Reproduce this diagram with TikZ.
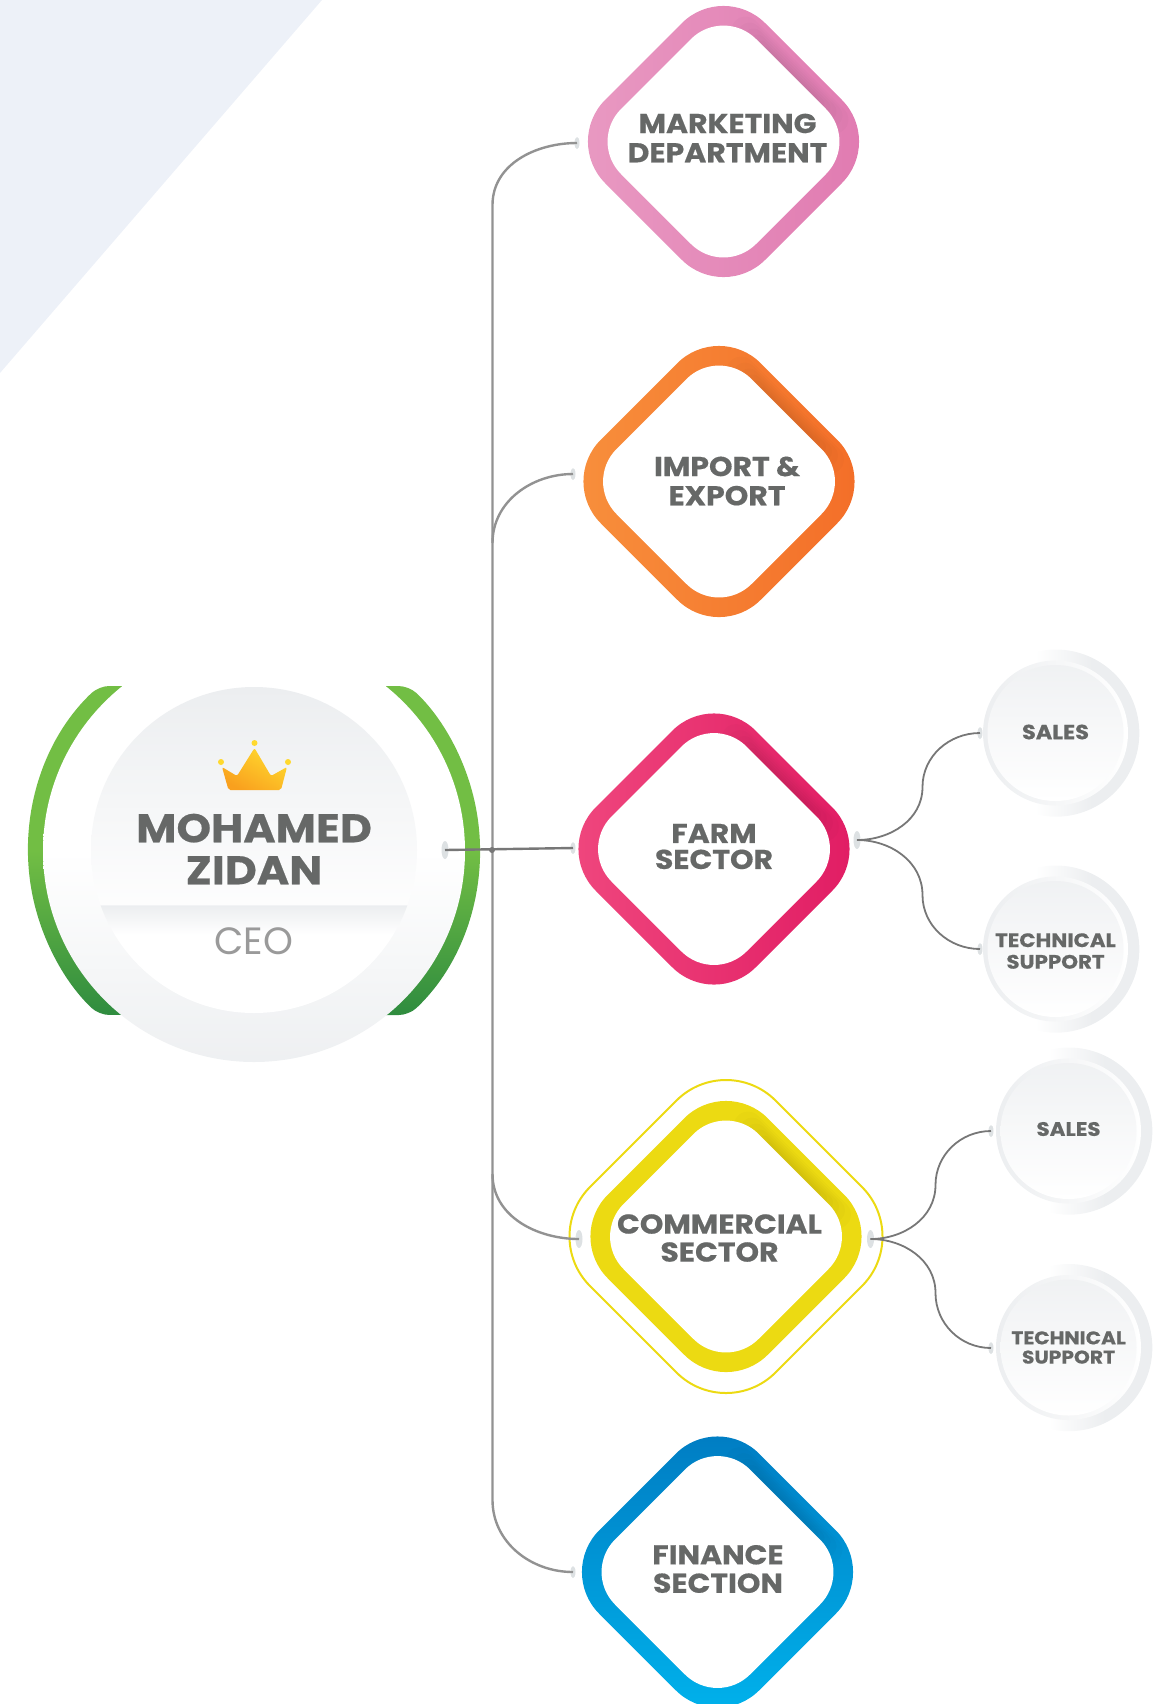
\documentclass[tikz,border=0pt]{standalone}
\usepackage{fontspec}
\setmainfont{Poppins}[BoldFeatures={FakeStretch=1.1,FakeBold=.5}]
\usetikzlibrary{shapes.geometric}

\definecolor{pagetri}{HTML}{EDF1F8}
\definecolor{textgrey}{HTML}{666867}
\definecolor{wiregrey}{HTML}{777777}
\definecolor{trunkgrey}{HTML}{929292}
\definecolor{titlegrey}{HTML}{9A9A9A}
\definecolor{pingrey}{HTML}{DDE1E3}
\definecolor{softgrey}{HTML}{ECEEF0}
\definecolor{greenlight}{HTML}{72BE44}
\definecolor{greendark}{HTML}{2F8C3F}
\definecolor{crowntop}{HTML}{FFD92E}
\definecolor{crownlow}{HTML}{F9A01E}
\definecolor{pinka}{HTML}{E99BC3}
\definecolor{pinkb}{HTML}{E079B0}
\definecolor{orangea}{HTML}{F8913D}
\definecolor{orangeb}{HTML}{F36C27}
\definecolor{rosea}{HTML}{F0497F}
\definecolor{roseb}{HTML}{E01A62}
\definecolor{yellowring}{HTML}{ECDA12}
\definecolor{bluea}{HTML}{0079C0}
\definecolor{blueb}{HTML}{00B5EE}

\pgfdeclareverticalshading{ceodisc}{100bp}{color(0bp)=(white); color(37bp)=(white); color(41.5bp)=(softgrey); color(41.7bp)=(white!90!softgrey); color(75bp)=(softgrey); color(100bp)=(softgrey)}

\tikzset{
    ringbase/.style={diamond, inner sep=0pt, outer sep=0pt, minimum size=160pt, rounded corners=29.5pt},
    ringhole/.style={diamond, inner sep=0pt, outer sep=0pt, minimum size=135pt, rounded corners=23pt, fill=white},
    pindot/.style={ellipse, inner sep=0pt, outer sep=0pt, minimum width=2.5pt, minimum height=6pt, fill=pingrey},
    pinbig/.style={pindot, minimum width=3.5pt, minimum height=9pt},
    wire/.style={wiregrey, line width=.9pt},
    trunk/.style={trunkgrey, line width=1.2pt},
    ringshadow/.style={black, opacity=.016, line cap=round},
    bigtext/.style={align=center, text=textgrey, inner sep=0pt, font=\bfseries\fontsize{13.6}{14.6}\selectfont},
    smalltext/.style={align=center, text=textgrey, inner sep=0pt, font=\bfseries\fontsize{9.7}{10.8}\selectfont},
    subtext/.style={smalltext, font=\bfseries\fontsize{9.2}{9.6}\selectfont},
    subdisc/.style={circle, inner sep=0pt, outer sep=0pt, minimum size=72.5pt, left color=softgrey, right color=white},
    subface/.style={circle, inner sep=0pt, outer sep=0pt, minimum size=68pt, top color=softgrey!80!white, bottom color=white},
    subback/.style={left color=white, right color=softgrey, middle color=softgrey}
}

\begin{document}
\begin{tikzpicture}[x=.5pt,y=-.5pt]
    \useasboundingbox (0,0) rectangle (1164,1704);

    \fill[pagetri] (0,0) -- (322,0) -- (0,373) -- cycle;

    % ceo badge
    \shade[top color=greenlight, bottom color=greendark, middle color=greenlight, rounded corners=5pt]
        (254,686) -- (99,686) arc[start angle=133.3, end angle=226.7, radius=113pt] -- (254,1015)
        -- (409,1015) arc[start angle=-46.7, end angle=46.7, radius=113pt] -- cycle;
    \node[circle, inner sep=0pt, outer sep=0pt, minimum size=211pt, top color=white, bottom color=softgrey!90!white, middle color=white] at (254,851) (ceoback) {};
    \node[circle, inner sep=0pt, outer sep=0pt, minimum size=163pt, shading=ceodisc] at (254,850) (ceoface) {};

    % crown
    \shade[left color=crowntop, right color=crownlow, shading angle=-30, rounded corners=1pt]
        (228.5,790) -- (222,767) -- (237,776) -- (254.5,748) -- (271,776) -- (287,767) -- (281,790) -- cycle;
    \fill[crowntop] (221,762) circle (1.5pt) (254.5,743) circle (1.5pt) (288,762) circle (1.5pt);

    \node[bigtext, font=\bfseries\fontsize{20}{21}\selectfont] at (254,849) (ceoname) {MOHAMED\\ZIDAN};
    \node[text=titlegrey, inner sep=0pt, font=\fontsize{19}{20}\selectfont] at (254,941) (ceotitle) {CEO};

    % department rings
    \node[ringbase, left color=pinka, right color=pinkb] at (723.5,141.5) (mktbase) {};
    \node[ringbase, left color=orangea, right color=orangeb] at (719,481.5) (impbase) {};
    \node[ringbase, left color=rosea, right color=roseb] at (714,849) (farmbase) {};
    \node[ringbase, minimum size=185.5pt, rounded corners=35pt, draw=yellowring, line width=1pt] at (726,1236.5) (comouter) {};
    \node[ringbase, fill=yellowring] at (726,1236.5) (combase) {};
    \node[ringbase, top color=bluea, bottom color=blueb] at (717.5,1572) (finbase) {};

    \foreach \ringname in {mktbase,impbase,farmbase,combase,finbase}{
        \foreach \shadewidth/\shadeinset in {14/0,12/4,10/8,8/12,6/16,4/20}{
            \draw[ringshadow, line width=\shadewidth pt] ([shift={(22+\shadeinset,-111+\shadeinset)}]\ringname.center) -- ([shift={(111-\shadeinset,-22-\shadeinset)}]\ringname.center);
        }
    }

    \node[ringhole] at (723.5,141.5) (mkt) {};
    \node[ringhole] at (719,481.5) (imp) {};
    \node[ringhole] at (714,849) (farm) {};
    \node[ringhole] at (726,1236.5) (com) {};
    \node[ringhole] at (717.5,1572) (fin) {};

    \node[bigtext] at (727.5,138) (mkttext) {MARKETING\\DEPARTMENT};
    \node[bigtext] at (727,481) (imptext) {IMPORT \&\\EXPORT};
    \node[bigtext, font=\bfseries\fontsize{13.6}{13}\selectfont] at (714,846.5) (farmtext) {FARM\\SECTOR};
    \node[bigtext, font=\bfseries\fontsize{13.6}{14}\selectfont] at (719.5,1238) (comtext) {COMMERCIAL\\SECTOR};
    \node[bigtext, font=\bfseries\fontsize{13.6}{14.2}\selectfont] at (718,1569) (fintext) {FINANCE\\SECTION};

    % sub circles
    \foreach \subname/\subx/\suby in {fs/1055.5/733, ft/1055.5/949, cs/1068.5/1131, ct/1068.5/1347.5}{
        \shade[subback] (\subx-20,\suby-81) arc[start angle=104, end angle=-104, radius=41.8pt] -- cycle;
        \node[subdisc] at (\subx,\suby) (\subname) {};
        \node[subface] at (\subx,\suby) (\subname face) {};
    }
    \node[smalltext, font=\bfseries\fontsize{10.2}{10.8}\selectfont] at ([yshift=.5pt]fs.center) (fstext) {SALES};
    \node[smalltext] at ([yshift=-1pt]ft.center) (fttext) {TECHNICAL\\SUPPORT};
    \node[subtext, font=\bfseries\fontsize{9.75}{9.6}\selectfont] at ([yshift=1pt]cs.center) (cstext) {SALES};
    \node[subtext] at (ct) (cttext) {TECHNICAL\\SUPPORT};

    % pins
    \node[pinbig] at (445,850) (ceopin) {};
    \node[pindot] at (573,848) (farmin) {};
    \node[pindot] at (577,143) (mktpin) {};
    \node[pindot] at (573,474) (imppin) {};
    \node[pinbig] at (579,1239) (comin) {};
    \node[pindot] at (573,1572) (finpin) {};
    \node[pinbig] at (857,840) (farmout) {};
    \node[pinbig] at (870.5,1239) (comout) {};
    \node[pindot] at (980,733) (fspin) {};
    \node[pindot] at (980,949) (ftpin) {};
    \node[pindot] at (991,1131) (cspin) {};
    \node[pindot] at (991,1348) (ctpin) {};

    % connectors
    \coordinate (trunktop) at (492.5,205);
    \coordinate (trunkbot) at (492.5,1500);
    \coordinate (impjoin) at (492.5,543);
    \coordinate (comjoin) at (492.5,1174);
    \coordinate (fsmid) at (922.5,787);
    \coordinate (ftmid) at (922.5,895);
    \coordinate (csmid) at (935.5,1185);
    \coordinate (ctmid) at (935.5,1293);

    \draw[trunk] (mktpin.center) to[out=180,in=90] (trunktop) -- (trunkbot) to[out=-90,in=180] (finpin.center);
    \draw[trunk] (imppin.center) to[out=180,in=90] (impjoin);
    \draw[trunk] (comin.center) to[out=180,in=-90] (comjoin);
    \draw[wire, line width=1.2pt] (ceopin.center) -- (farmin.center);
    \node[circle, inner sep=0pt, minimum size=3pt, fill=wiregrey] at (492,850) (junction) {};

    \draw[wire] (farmout.center) to[out=0,in=-90] (fsmid) to[out=90,in=180] (fspin.center);
    \draw[wire] (farmout.center) to[out=0,in=90] (ftmid) to[out=-90,in=180] (ftpin.center);
    \draw[wire] (comout.center) to[out=0,in=-90] (csmid) to[out=90,in=180] (cspin.center);
    \draw[wire] (comout.center) to[out=0,in=90] (ctmid) to[out=-90,in=180] (ctpin.center);
\end{tikzpicture}
\end{document}
